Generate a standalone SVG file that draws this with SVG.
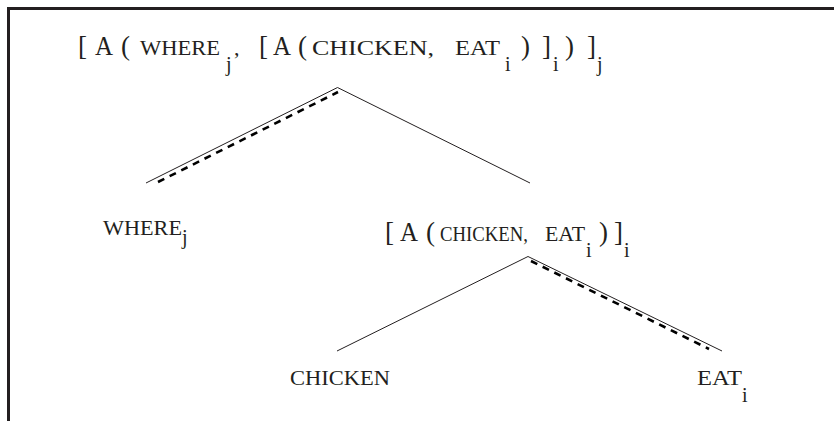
<svg xmlns="http://www.w3.org/2000/svg" width="834" height="421" viewBox="0 0 834 421">
<style>
text{font-family:'Liberation Serif','DejaVu Serif',serif;fill:#231f20}
.big{font-size:27px}
.sc{font-size:22px}
.sub{font-size:20px}
.line{stroke:#231f20;stroke-width:1;fill:none}
.dash{stroke:#000;stroke-width:2.6;stroke-dasharray:7 6;fill:none}
</style>
<rect width="834" height="421" fill="#fff"/>
<path d="M8.5 421V8.5H834" stroke="#231f20" stroke-width="3" fill="none"/>
<g id="root">
<text x="78" y="55" class="big">[</text>
<text x="95" y="55" class="big" textLength="18" lengthAdjust="spacingAndGlyphs">A</text>
<text x="121" y="55" class="big">(</text>
<text x="140" y="55" class="sc" textLength="80" lengthAdjust="spacingAndGlyphs">WHERE</text>
<text x="226" y="71" class="sub">j</text>
<text x="234" y="55" class="sc">,</text>
<text x="259" y="55" class="big">[</text>
<text x="273" y="55" class="big" textLength="18" lengthAdjust="spacingAndGlyphs">A</text>
<text x="298" y="55" class="big">(</text>
<text x="312" y="55" class="sc" textLength="122" lengthAdjust="spacingAndGlyphs">CHICKEN,</text>
<text x="455" y="55" class="sc" textLength="45" lengthAdjust="spacingAndGlyphs">EAT</text>
<text x="505" y="71" class="sub">i</text>
<text x="521" y="55" class="big">)</text>
<text x="542" y="55" class="big">]</text>
<text x="553" y="71" class="sub">i</text>
<text x="565" y="55" class="big">)</text>
<text x="587" y="55" class="big">]</text>
<text x="597" y="71" class="sub">j</text>
</g>
<g id="where">
<text x="103" y="235" class="sc" textLength="79" lengthAdjust="spacingAndGlyphs">WHERE</text>
<text x="182" y="244" class="sub">j</text>
</g>
<g id="inner">
<text x="385" y="241" class="big">[</text>
<text x="400" y="241" class="big" textLength="18" lengthAdjust="spacingAndGlyphs">A</text>
<text x="426" y="241" class="big">(</text>
<text x="440" y="241" class="sc" textLength="88" lengthAdjust="spacingAndGlyphs">CHICKEN,</text>
<text x="545" y="241" class="sc" textLength="40" lengthAdjust="spacingAndGlyphs">EAT</text>
<text x="586" y="257" class="sub">i</text>
<text x="599" y="241" class="big">)</text>
<text x="614" y="241" class="big">]</text>
<text x="624" y="257" class="sub">i</text>
</g>
<g id="chicken">
<text x="290" y="385" class="sc" textLength="100" lengthAdjust="spacingAndGlyphs">CHICKEN</text>
</g>
<g id="eat">
<text x="697" y="385" class="sc" textLength="45" lengthAdjust="spacingAndGlyphs">EAT</text>
<text x="742" y="402" class="sub">i</text>
</g>
<g id="connectors">
<path class="line" d="M146 183L337.5 87.5L530 183"/>
<path class="dash" d="M158 182L338 92"/>
<path class="line" d="M337 351L528 256.5L722 351"/>
<path class="dash" d="M531 261L709 349"/>
</g>
</svg>
